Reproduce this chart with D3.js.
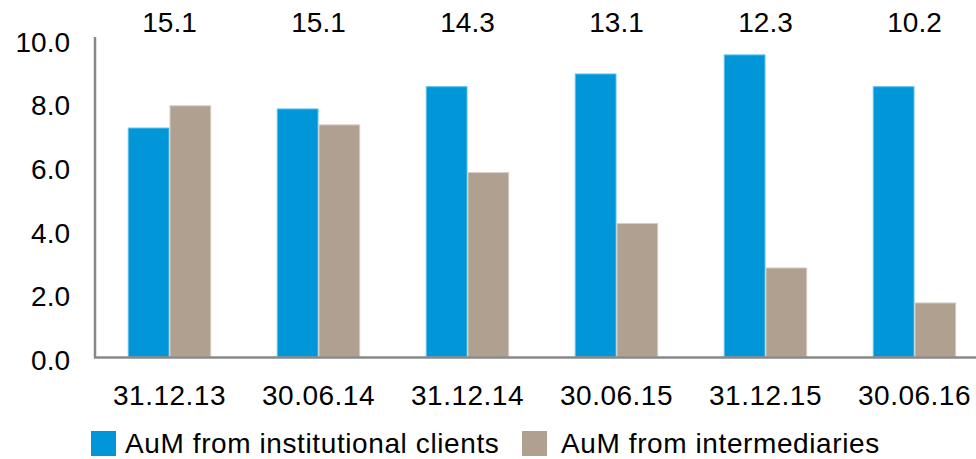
<!DOCTYPE html>
<html>
<head>
<meta charset="utf-8">
<script src="https://cdn.jsdelivr.net/npm/d3@7"></script>
<style>
  body { margin: 0; background: #fff; }
  svg text { font-family: "Liberation Sans", Arial, sans-serif; fill: #000; }
</style>
</head>
<body>
<div id="chart"></div>
<script>
var categories = ["31.12.13", "30.06.14", "31.12.14", "30.06.15", "31.12.15", "30.06.16"];
var institutional = [7.2, 7.8, 8.5, 8.9, 9.5, 8.5];
var intermediaries = [7.9, 7.3, 5.8, 4.2, 2.8, 1.7];
var totals = ["15.1", "15.1", "14.3", "13.1", "12.3", "10.2"];
var yTicks = [0, 2, 4, 6, 8, 10];
var seriesNames = ["AuM from institutional clients", "AuM from intermediaries"];
var seriesColors = ["#0096d8", "#afa090"];
var seriesStrokes = ["#5cc0ec", "#d8cec4"];

var width = 976, height = 459;
var left = 95, bottom = 357;

var svg = d3.select("#chart").append("svg")
  .attr("width", width)
  .attr("height", height);

var x = d3.scaleBand()
  .domain(categories)
  .range([left, left + 6 * 149])
  .paddingInner(0.44)
  .paddingOuter(0.22);

var x1 = d3.scaleBand()
  .domain([0, 1])
  .range([0, x.bandwidth()]);

var y = d3.scaleLinear()
  .domain([0, 10])
  .range([bottom, 39]);

// y tick labels
svg.selectAll(".ytick")
  .data(yTicks)
  .enter().append("text")
  .attr("class", "ytick")
  .attr("x", 70)
  .attr("y", d => y(d) + 3)
  .attr("dy", "0.35em")
  .attr("text-anchor", "end")
  .style("font-size", "28px")
  .text(d => d3.format(".1f")(d));

// bars
var groups = svg.selectAll(".grp")
  .data(categories)
  .enter().append("g")
  .attr("class", "grp")
  .attr("transform", d => "translate(" + x(d) + ",0)");

[institutional, intermediaries].forEach(function (vals, s) {
  groups.append("rect")
    .attr("x", x1(s) + 0.5)
    .attr("width", x1.bandwidth() - 1)
    .attr("y", (d, i) => y(vals[i]))
    .attr("height", (d, i) => bottom - y(vals[i]))
    .style("fill", seriesColors[s])
    .style("stroke", seriesStrokes[s])
    .style("stroke-width", 1);
});

// totals above
svg.selectAll(".total")
  .data(categories)
  .enter().append("text")
  .attr("class", "total")
  .attr("x", d => x(d) + x.bandwidth() / 2)
  .attr("y", 22)
  .attr("dy", "0.35em")
  .attr("text-anchor", "middle")
  .style("font-size", "28px")
  .text((d, i) => totals[i]);

// axis lines
svg.append("line")
  .attr("x1", left).attr("x2", left)
  .attr("y1", 37).attr("y2", bottom + 1)
  .style("stroke", "#888")
  .style("stroke-width", 2.5);
svg.append("line")
  .attr("x1", left - 1).attr("x2", width)
  .attr("y1", bottom + 0.5).attr("y2", bottom + 0.5)
  .style("stroke", "#888")
  .style("stroke-width", 2.5);

// category labels
svg.selectAll(".cat")
  .data(categories)
  .enter().append("text")
  .attr("class", "cat")
  .attr("x", d => x(d) + x.bandwidth() / 2)
  .attr("y", 395)
  .attr("dy", "0.35em")
  .attr("text-anchor", "middle")
  .style("font-size", "28px")
  .style("letter-spacing", "0.5px")
  .text(d => d);

// legend
var legendX = [91, 522];
var legendTextX = [34, 39];
var legend = svg.selectAll(".leg")
  .data(seriesNames)
  .enter().append("g")
  .attr("class", "leg")
  .attr("transform", (d, i) => "translate(" + legendX[i] + ",431)");
legend.append("rect")
  .attr("width", 25)
  .attr("height", 25)
  .style("fill", (d, i) => seriesColors[i]);
legend.append("text")
  .attr("x", (d, i) => legendTextX[i])
  .attr("y", 22)
  .style("font-size", "28px")
  .style("letter-spacing", "0.6px")
  .text(d => d);
</script>
</body>
</html>
